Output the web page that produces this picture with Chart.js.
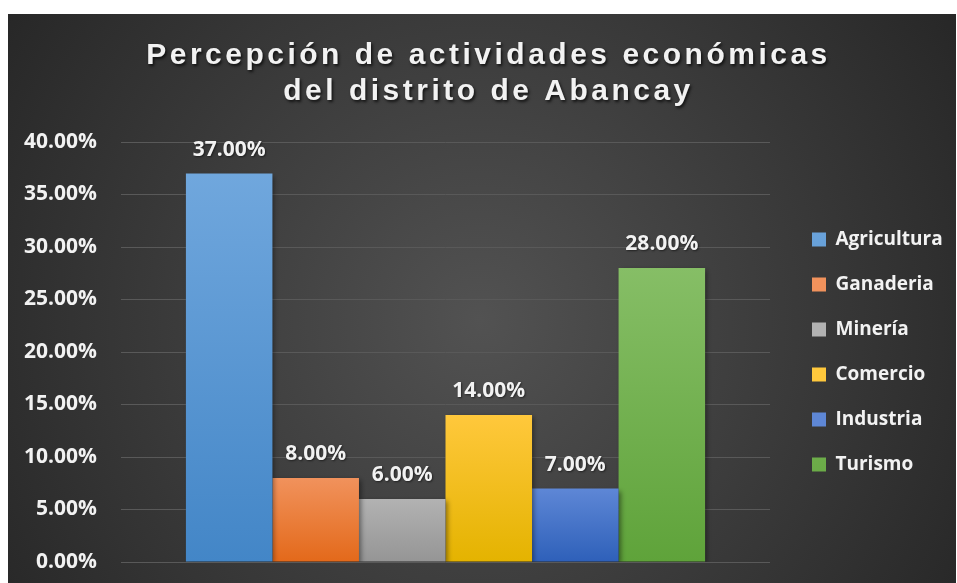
<!DOCTYPE html>
<html>
<head>
<meta charset="utf-8">
<script src="https://cdn.jsdelivr.net/npm/chart.js@4/dist/chart.umd.min.js"></script>
<style>
  html, body { margin: 0; padding: 0; background: #fff; }
  canvas { display: block; }
</style>
</head>
<body>
<canvas id="chart" width="957" height="583"></canvas>
<script>
// datos del grafico
var categorias = ['Agricultura', 'Ganaderia', 'Minería', 'Comercio', 'Industria', 'Turismo'];
var porcentajes = [37, 8, 6, 14, 7, 28];
var tituloLineas = ['Percepción de actividades económicas', 'del distrito de Abancay'];
var ejeY = { min: 0, max: 40, paso: 5 };

// colores degradados (arriba, abajo) por serie
var coloresArriba = ['#70a7dd', '#f1925c', '#b2b2b2', '#ffc83c', '#5e87d6', '#86be66'];
var coloresAbajo  = ['#4386c7', '#e3691a', '#959595', '#e4b300', '#2e60b9', '#5fa33a'];

var fuente = '"Open Sans"';

function colorBarra(i) {
  return function (ctx) {
    var chart = ctx.chart;
    if (ctx.type !== 'data' || !chart.chartArea) return coloresArriba[i];
    var y = chart.scales.y;
    var g = chart.ctx.createLinearGradient(0, y.getPixelForValue(ctx.raw), 0, y.getPixelForValue(0));
    g.addColorStop(0, coloresArriba[i]);
    g.addColorStop(1, coloresAbajo[i]);
    return g;
  };
}

var datasets = categorias.map(function (nombre, i) {
  return {
    label: nombre,
    data: [porcentajes[i]],
    backgroundColor: colorBarra(i),
    borderWidth: 0,
    categoryPercentage: 0.8,
    barPercentage: 1.0
  };
});

var fondo = {                         // fondo, titulo espaciado, etiquetas
  id: 'fondo',
  beforeLayout: function (chart) {
    var tb = chart.titleBlock;        // espaciado de letras del titulo
    if (tb && !tb._envuelto) {
      var orig = tb.draw.bind(tb);
      tb.draw = function (area) {
        var c = this.ctx;
        c.save();
        c.letterSpacing = '3.5px';
        c.shadowColor = 'rgba(0,0,0,0.7)';
        c.shadowBlur = 3;
        c.shadowOffsetX = 1.5;
        c.shadowOffsetY = 1.5;
        c.translate(6, 0);
        orig(area);
        c.restore();
      };
      tb._envuelto = true;
    }
    var lg = chart.legend;            // ancho fijo de la leyenda
    if (lg && !lg._envuelto) {
      var fit = lg.fit.bind(lg);
      lg.fit = function () { fit(); this.width = 171; };
      lg._envuelto = true;
    }
  },
  beforeDraw: function (chart) {
    var c = chart.ctx;
    c.save();
    c.fillStyle = '#ffffff';
    c.fillRect(0, 0, chart.width, chart.height);
    var g = c.createRadialGradient(480, 320, 0, 480, 320, 580);
    g.addColorStop(0, '#525252');
    g.addColorStop(1, '#262626');
    c.fillStyle = g;
    c.fillRect(8, 14, chart.width - 9, chart.height - 14);
    c.restore();
  },
  beforeDatasetsDraw: function (chart) {
    var c = chart.ctx;
    c.save();
    c.shadowColor = 'rgba(0,0,0,0.45)';
    c.shadowBlur = 5;
    c.shadowOffsetX = 2;
    c.shadowOffsetY = 2;
  },
  afterDatasetsDraw: function (chart) {
    var c = chart.ctx;
    c.restore();
    c.save();
    c.font = 'bold 21px ' + fuente;
    c.fillStyle = '#f2f2f2';
    c.textAlign = 'center';
    c.textBaseline = 'alphabetic';
    c.shadowColor = 'rgba(0,0,0,0.5)';
    c.shadowBlur = 2;
    c.shadowOffsetX = 1;
    c.shadowOffsetY = 1;
    chart.data.datasets.forEach(function (ds, i) {
      var el = chart.getDatasetMeta(i).data[0];
      c.fillText(ds.data[0].toFixed(2) + '%', el.x, el.y - 18);
    });
    c.restore();
  }
};

var ctx = document.getElementById('chart').getContext('2d');
var grafico = new Chart(ctx, {
  type: 'bar',
  data: { labels: [''], datasets: datasets },
  options: {
    responsive: false,
    animation: false,
    layout: { padding: { left: 8, top: 14, right: 0, bottom: 0 } },
    plugins: {
      title: {
        display: true,
        text: tituloLineas,
        color: '#f2f2f2',
        font: { family: '"Liberation Sans", Arial', size: 30, weight: 'bold', lineHeight: 1.2 },
        padding: { top: 24, bottom: 32 }
      },
      legend: {
        position: 'right',
        fullSize: false,
        labels: {
          color: '#f2f2f2',
          font: { family: fuente, size: 19, weight: 'bold' },
          boxWidth: 14,
          boxHeight: 14,
          padding: 26
        }
      },
      tooltip: { enabled: false }
    },
    scales: {
      x: {
        display: true,
        grid: { display: false },
        border: { display: false },
        ticks: { display: false },
        afterFit: function (s) { s.height = 21; }
      },
      y: {
        min: ejeY.min,
        max: ejeY.max,
        ticks: {
          stepSize: ejeY.paso,
          color: '#f2f2f2',
          padding: 0,
          font: { family: fuente, size: 21, weight: 'bold' },
          callback: function (v) { return v.toFixed(2) + '%'; }
        },
        grid: { color: '#595959', lineWidth: 1, drawTicks: true, tickLength: 24, tickColor: 'rgba(0,0,0,0)' },
        border: { display: false },
        afterFit: function (s) { s.width = 113; }
      },
      y2: {
        position: 'right',
        display: true,
        grid: { display: false },
        border: { display: false },
        ticks: { display: false },
        afterFit: function (s) { s.width = 16; }
      }
    }
  },
  plugins: [fondo]
});
</script>
</body>
</html>
